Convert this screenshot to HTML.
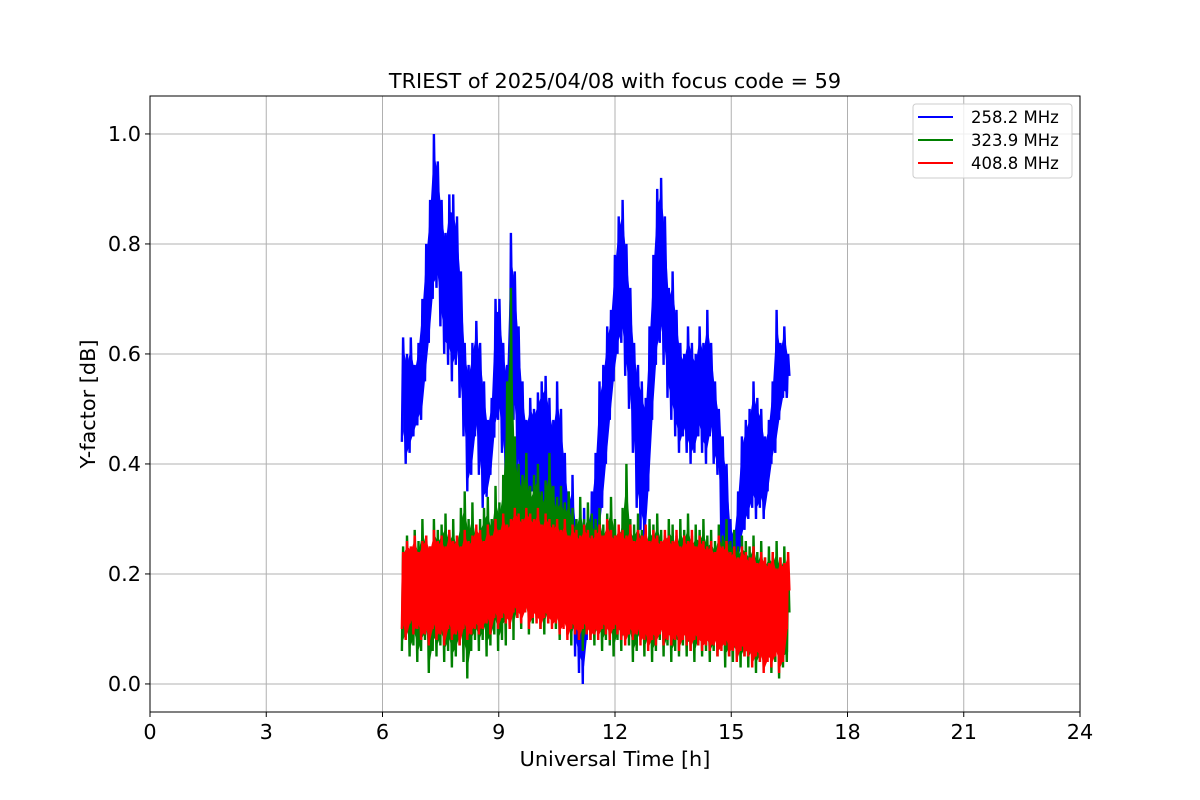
<!DOCTYPE html>
<html><head><meta charset="utf-8"><style>
body{margin:0;background:#fff}
svg{display:block;font-family:"DejaVu Sans","Liberation Sans",sans-serif}
</style></head><body>
<svg id="chart" width="1200" height="800">
<rect width="1200" height="800" fill="#fff"/>
<g id="grid"></g>
<g id="series"></g>
<rect x="150" y="96" width="930" height="616" fill="none" stroke="#000" stroke-width="1"/>
<g id="axes"></g>
<text x="615" y="88" font-size="20.8" text-anchor="middle">TRIEST of 2025/04/08 with focus code = 59</text>
<text x="615" y="766" font-size="20.8" text-anchor="middle">Universal Time [h]</text>
<text x="95" y="404" font-size="20.8" text-anchor="middle" transform="rotate(-90 95 404)">Y-factor [dB]</text>
<g>
<rect x="913" y="104" width="159" height="74" rx="3" fill="#fff" fill-opacity="0.8" stroke="#ccc"/>
<g><line x1="918" y1="117" x2="953" y2="117" stroke="#0000ff" stroke-width="2"/><text x="971" y="123" font-size="16.5">258.2 MHz</text></g>
<g><line x1="918" y1="140" x2="953" y2="140" stroke="#008000" stroke-width="2"/><text x="971" y="146" font-size="16.5">323.9 MHz</text></g>
<g><line x1="918" y1="163" x2="953" y2="163" stroke="#ff0000" stroke-width="2"/><text x="971" y="169" font-size="16.5">408.8 MHz</text></g>
</g>
</svg>
<script>
const xTicks=[0,3,6,9,12,15,18,21,24];
const yTicks=[0.0,0.2,0.4,0.6,0.8,1.0];
const tStart=6.5, tStep=0.1;
const blueHi=[.63,.60,.63,.58,.62,.70,.80,.88,1.00,.95,.88,.82,.89,.89,.85,.75,.62,.58,.62,.66,.62,.55,.48,.52,.70,.70,.62,.58,.82,.75,.65,.55,.48,.52,.50,.53,.55,.56,.52,.48,.55,.50,.42,.35,.38,.30,.30,.32,.30,.35,.42,.55,.58,.65,.68,.78,.85,.88,.80,.72,.62,.58,.55,.52,.65,.78,.90,.92,.85,.72,.75,.68,.62,.60,.65,.62,.60,.65,.62,.68,.62,.55,.50,.45,.40,.30,.28,.35,.45,.48,.50,.55,.52,.50,.45,.48,.55,.68,.62,.65,.60];
const blueLo=[.44,.40,.42,.45,.47,.48,.55,.62,.70,.72,.65,.60,.58,.55,.58,.52,.45,.35,.38,.45,.38,.32,.34,.38,.45,.48,.42,.35,.45,.48,.38,.30,.34,.32,.35,.30,.30,.32,.28,.26,.22,.20,.18,.12,.10,.05,.02,.00,.08,.12,.15,.25,.32,.40,.48,.55,.60,.62,.56,.50,.42,.32,.28,.25,.35,.48,.58,.62,.58,.52,.48,.45,.42,.45,.42,.40,.42,.45,.42,.40,.45,.40,.38,.25,.22,.15,.15,.20,.25,.28,.30,.32,.30,.32,.30,.35,.40,.42,.48,.52,.52];
const greenHi=[.25,.27,.24,.28,.26,.30,.27,.25,.30,.28,.29,.31,.28,.30,.27,.32,.35,.30,.33,.28,.30,.32,.34,.30,.36,.33,.38,.55,.72,.45,.40,.38,.42,.36,.38,.40,.35,.37,.42,.36,.34,.36,.33,.35,.32,.30,.34,.30,.33,.31,.30,.32,.29,.31,.34,.30,.28,.32,.40,.30,.29,.31,.28,.27,.30,.29,.31,.28,.27,.30,.29,.27,.30,.28,.31,.27,.29,.28,.30,.27,.28,.26,.29,.27,.30,.26,.28,.25,.27,.26,.25,.27,.24,.26,.23,.25,.24,.26,.23,.25,.22];
const greenLo=[.06,.08,.05,.07,.04,.06,.08,.02,.06,.05,.07,.04,.06,.03,.05,.07,.04,.01,.06,.08,.06,.08,.05,.07,.09,.06,.08,.07,.10,.08,.12,.10,.13,.09,.11,.12,.10,.09,.11,.12,.10,.08,.11,.09,.07,.10,.08,.06,.09,.08,.07,.09,.06,.08,.07,.05,.08,.06,.09,.07,.04,.06,.08,.05,.07,.04,.06,.08,.05,.07,.04,.06,.05,.07,.05,.06,.04,.07,.05,.06,.04,.06,.05,.07,.03,.05,.04,.06,.03,.05,.03,.05,.02,.04,.03,.05,.02,.04,.01,.03,.04];
const redHi=[.24,.26,.25,.27,.24,.26,.27,.25,.28,.26,.27,.25,.28,.26,.27,.25,.28,.26,.27,.29,.28,.26,.29,.27,.30,.28,.31,.29,.30,.32,.31,.30,.32,.31,.30,.32,.29,.31,.30,.29,.30,.28,.30,.27,.29,.28,.27,.29,.28,.27,.28,.29,.27,.30,.28,.27,.29,.28,.27,.29,.26,.28,.27,.29,.26,.28,.27,.26,.28,.27,.26,.28,.25,.27,.26,.28,.25,.27,.26,.25,.26,.24,.27,.25,.26,.24,.25,.23,.25,.24,.23,.25,.22,.24,.23,.22,.24,.21,.23,.22,.24];
const redLo=[.10,.08,.11,.09,.10,.08,.09,.07,.10,.08,.09,.07,.10,.08,.09,.07,.10,.08,.09,.10,.09,.10,.11,.09,.12,.10,.12,.11,.10,.13,.12,.11,.13,.10,.12,.11,.10,.12,.11,.10,.11,.09,.10,.08,.10,.09,.08,.10,.09,.08,.09,.08,.10,.09,.08,.10,.09,.08,.07,.09,.08,.09,.07,.08,.06,.08,.07,.09,.07,.08,.07,.08,.06,.08,.07,.06,.08,.07,.06,.07,.06,.07,.05,.06,.07,.05,.06,.04,.06,.05,.05,.03,.05,.04,.02,.04,.03,.05,.02,.04,.10];

const X0=150,X1=1080,Y0=712,Y1=96,xMin=0,xMax=24,yMin=-0.051,yMax=1.069;
function xs(v){return X0+(v-xMin)/(xMax-xMin)*(X1-X0);}
function ys(v){return Y0-(v-yMin)/(yMax-yMin)*(Y0-Y1);}
const NS="http://www.w3.org/2000/svg";
function mk(tag,attrs,parent){const e=document.createElementNS(NS,tag);for(const k in attrs)e.setAttribute(k,attrs[k]);parent.appendChild(e);return e;}
const grid=document.getElementById('grid'),axes=document.getElementById('axes'),ser=document.getElementById('series');
xTicks.forEach(t=>{
  const gl=mk('line',{x1:xs(t),x2:xs(t),y1:Y1,y2:Y0,stroke:'#b0b0b0','stroke-width':1},grid);
  
  
  mk('line',{x1:xs(t),x2:xs(t),y1:Y0,y2:Y0+5,stroke:'#000'},axes);
  const tx=mk('text',{x:xs(t),y:Y0+27,'font-size':20.8,'text-anchor':'middle'},axes);
  tx.textContent=t;
  
  
});
yTicks.forEach(t=>{
  const gl=mk('line',{x1:X0,x2:X1,y1:ys(t),y2:ys(t),stroke:'#b0b0b0','stroke-width':1},grid);
  
  
  mk('line',{x1:X0-5,x2:X0,y1:ys(t),y2:ys(t),stroke:'#000'},axes);
  const tx=mk('text',{x:X0-9,y:ys(t)+7,'font-size':20.8,'text-anchor':'end'},axes);
  tx.textContent=t.toFixed(1);
  
  
});
function draw(hi,lo,color,name,shrink){
  const n=hi.length, span=tStep*(n-1);
  function tx(i,f){return tStart+(i+f)*span/(n-1+0.66);}
  let f='';
  for(let i=0;i<n;i++){const t=tx(i,0.33);const v=hi[i]-shrink*(hi[i]-lo[i]);f+=(i?'L':'M')+xs(t).toFixed(1)+' '+ys(v).toFixed(1);}
  for(let i=n-1;i>=0;i--){const t=tx(i,0.33);const v=lo[i]+shrink*(hi[i]-lo[i]);f+='L'+xs(t).toFixed(1)+' '+ys(v).toFixed(1);}
  const band=mk('path',{d:f+'Z',fill:color,stroke:'none'},ser);
  
  
  let d='';
  for(let i=0;i<n;i++){
    d+=(i?'L':'M')+xs(tx(i,0)).toFixed(1)+' '+ys(lo[i]).toFixed(1);
    d+='L'+xs(tx(i,0.33)).toFixed(1)+' '+ys(hi[i]).toFixed(1);
    d+='L'+xs(tx(i,0.66)).toFixed(1)+' '+ys((hi[i]+lo[i])/2).toFixed(1);
  }
  const p=mk('path',{d:d,fill:'none',stroke:color,'stroke-width':2.4},ser);
  
  
}
draw(blueHi,blueLo,'#0000ff','series-258mhz',0.1);
draw(greenHi,greenLo,'#008000','series-323mhz',0.1);
draw(redHi,redLo,'#ff0000','series-408mhz',0.05);
</script>
</body></html>
